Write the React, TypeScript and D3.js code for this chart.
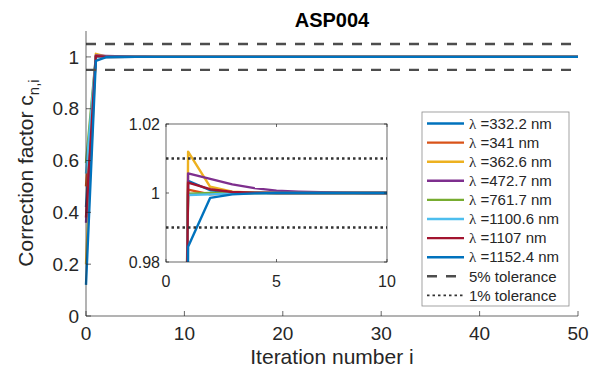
import { useEffect, useRef } from "react";
import * as d3 from "d3";

// iteration numbers (values are flat at 1 after iteration 10)
const iterations = [0, 1, 2, 3, 4, 5, 6, 7, 8, 9, 10, 50];

const wl332 = [0.42, 1.0035, 1.0008, 1.0002, 1.0001, 1, 1, 1, 1, 1, 1, 1];
const wl341 = [0.5, 1.001, 0.9996, 0.9999, 1, 1, 1, 1, 1, 1, 1, 1];
const wl362 = [0.2, 1.012, 1.0018, 1.0004, 1.0001, 1, 1, 1, 1, 1, 1, 1];
const wl472 = [0.36, 1.0057, 1.0041, 1.0025, 1.0014, 1.0007, 1.0004, 1.0002, 1.0001, 1, 1, 1];
const wl761 = [0.59, 0.9998, 1, 1, 1, 1, 1, 1, 1, 1, 1, 1];
const wl1100 = [0.55, 0.9994, 0.9996, 0.9999, 1, 1, 1, 1, 1, 1, 1, 1];
const wl1107 = [0.38, 1.003, 1.0011, 1.0003, 1.0001, 1, 1, 1, 1, 1, 1, 1];
const wl1152 = [0.12, 0.9844, 0.9986, 0.9996, 0.9999, 1, 1, 1, 1, 1, 1, 1];

const seriesNames = ["332.2", "341", "362.6", "472.7", "761.7", "1100.6", "1107", "1152.4"];
const seriesValues = [wl332, wl341, wl362, wl472, wl761, wl1100, wl1107, wl1152];
const colors = ["#0072BD", "#D95319", "#EDB120", "#7E2F8E", "#77AC30", "#4DBEEE", "#A2142F", "#0072BD"];

const mainXTicks = [0, 10, 20, 30, 40, 50];
const mainYTicks = [0, 0.2, 0.4, 0.6, 0.8, 1];
const insetXTicks = [0, 5, 10];
const insetYTicks = [0.98, 1, 1.02];
const tol5 = [0.95, 1.05];
const tol1 = [0.99, 1.01];

const FONT = "'Liberation Sans', Arial, Helvetica, sans-serif";

export default function App() {
  const svgRef = useRef<SVGSVGElement>(null);

  useEffect(() => {
    if (!svgRef.current) return;
    const svg = d3.select(svgRef.current);
    svg.selectAll("*").remove();

    const x = d3.scaleLinear().domain([0, 50]).range([86, 578]);
    const y = d3.scaleLinear().domain([0, 1.1]).range([316, 31]);

    const data = seriesValues.map((vals) => vals.map((v, i) => ({ i: iterations[i], v })));

    // main lines
    const line = d3
      .line<{ i: number; v: number }>()
      .x((d) => x(d.i))
      .y((d) => y(d.v));

    const g = svg.append("g");
    data.forEach((d, k) => {
      g.append("path")
        .attr("d", line(d))
        .attr("fill", "none")
        .attr("stroke", colors[k])
        .attr("stroke-width", 2.4)
        .attr("stroke-linejoin", "round");
    });

    // 5% tolerance
    tol5.forEach((t) => {
      g.append("line")
        .attr("x1", x(0))
        .attr("x2", x(50))
        .attr("y1", y(t))
        .attr("y2", y(t))
        .attr("stroke", "#4d4d4d")
        .attr("stroke-width", 2.4)
        .attr("stroke-dasharray", "10,9");
    });

    // main axes
    const axisColor = "#262626";
    g.append("line")
      .attr("x1", x(0)).attr("x2", x(0))
      .attr("y1", y(1.1)).attr("y2", y(0))
      .attr("stroke", axisColor).attr("stroke-width", 0.7);
    g.append("line")
      .attr("x1", x(0)).attr("x2", x(50))
      .attr("y1", y(0)).attr("y2", y(0))
      .attr("stroke", axisColor).attr("stroke-width", 0.7);

    mainXTicks.forEach((t) => {
      g.append("line")
        .attr("x1", x(t)).attr("x2", x(t))
        .attr("y1", y(0)).attr("y2", y(0) - 5)
        .attr("stroke", axisColor).attr("stroke-width", 0.7);
      g.append("text")
        .attr("x", x(t))
        .attr("y", y(0) + 24)
        .attr("text-anchor", "middle")
        .attr("font-family", FONT)
        .attr("font-size", 19)
        .attr("fill", axisColor)
        .text(String(t));
    });
    mainYTicks.forEach((t) => {
      g.append("line")
        .attr("x1", x(0)).attr("x2", x(0) + 5)
        .attr("y1", y(t)).attr("y2", y(t))
        .attr("stroke", axisColor).attr("stroke-width", 0.7);
      g.append("text")
        .attr("x", x(0) - 7)
        .attr("y", y(t))
        .attr("dy", "0.35em")
        .attr("text-anchor", "end")
        .attr("font-family", FONT)
        .attr("font-size", 19)
        .attr("fill", axisColor)
        .text(String(t));
    });

    // title and labels
    svg.append("text")
      .attr("x", 332).attr("y", 27)
      .attr("text-anchor", "middle")
      .attr("font-family", FONT)
      .attr("font-size", 20)
      .attr("font-weight", "bold")
      .text("ASP004");

    svg.append("text")
      .attr("x", 332).attr("y", 364)
      .attr("text-anchor", "middle")
      .attr("font-family", FONT)
      .attr("font-size", 21)
      .attr("fill", axisColor)
      .text("Iteration number i");

    const yl = svg.append("text")
      .attr("transform", "translate(33,173) rotate(-90)")
      .attr("text-anchor", "middle")
      .attr("font-family", FONT)
      .attr("font-size", 21)
      .attr("fill", axisColor);
    yl.append("tspan").text("Correction factor c");
    yl.append("tspan").attr("dy", 6).attr("font-size", 15).text("n,i");

    // inset
    const xi = d3.scaleLinear().domain([0, 10]).range([166, 387]);
    const yi = d3.scaleLinear().domain([0.98, 1.02]).range([262, 124]);

    svg.append("defs")
      .append("clipPath").attr("id", "insetClip")
      .append("rect")
      .attr("x", xi(0)).attr("y", yi(1.02))
      .attr("width", xi(10) - xi(0)).attr("height", yi(0.98) - yi(1.02));

    const gi = svg.append("g");
    gi.append("rect")
      .attr("x", xi(0)).attr("y", yi(1.02))
      .attr("width", xi(10) - xi(0)).attr("height", yi(0.98) - yi(1.02))
      .attr("fill", "white");

    const lineI = d3
      .line<{ i: number; v: number }>()
      .x((d) => xi(d.i))
      .y((d) => yi(d.v));

    const clipped = gi.append("g").attr("clip-path", "url(#insetClip)");
    data.forEach((d, k) => {
      clipped.append("path")
        .attr("d", lineI(d))
        .attr("fill", "none")
        .attr("stroke", colors[k])
        .attr("stroke-width", 2.4)
        .attr("stroke-linejoin", "round");
    });
    tol1.forEach((t) => {
      clipped.append("line")
        .attr("x1", xi(0)).attr("x2", xi(10))
        .attr("y1", yi(t)).attr("y2", yi(t))
        .attr("stroke", "#333")
        .attr("stroke-width", 2.4)
        .attr("stroke-dasharray", "2.5,3");
    });

    gi.append("rect")
      .attr("x", xi(0)).attr("y", yi(1.02))
      .attr("width", xi(10) - xi(0)).attr("height", yi(0.98) - yi(1.02))
      .attr("fill", "none")
      .attr("stroke", axisColor)
      .attr("stroke-width", 0.7);

    insetXTicks.forEach((t) => {
      gi.append("line")
        .attr("x1", xi(t)).attr("x2", xi(t))
        .attr("y1", yi(0.98)).attr("y2", yi(0.98) - 3)
        .attr("stroke", axisColor).attr("stroke-width", 0.7);
      gi.append("line")
        .attr("x1", xi(t)).attr("x2", xi(t))
        .attr("y1", yi(1.02)).attr("y2", yi(1.02) + 3)
        .attr("stroke", axisColor).attr("stroke-width", 0.7);
      gi.append("text")
        .attr("x", xi(t)).attr("y", yi(0.98) + 25)
        .attr("text-anchor", "middle")
        .attr("font-family", FONT)
        .attr("font-size", 16)
        .attr("fill", axisColor)
        .text(String(t));
    });
    insetYTicks.forEach((t) => {
      gi.append("line")
        .attr("x1", xi(0)).attr("x2", xi(0) + 3)
        .attr("y1", yi(t)).attr("y2", yi(t))
        .attr("stroke", axisColor).attr("stroke-width", 0.7);
      gi.append("line")
        .attr("x1", xi(10)).attr("x2", xi(10) - 3)
        .attr("y1", yi(t)).attr("y2", yi(t))
        .attr("stroke", axisColor).attr("stroke-width", 0.7);
      gi.append("text")
        .attr("x", xi(0) - 6).attr("y", yi(t))
        .attr("dy", "0.35em")
        .attr("text-anchor", "end")
        .attr("font-family", FONT)
        .attr("font-size", 16)
        .attr("fill", axisColor)
        .text(String(t));
    });

    // legend
    const lg = svg.append("g");
    lg.append("rect")
      .attr("x", 422).attr("y", 112)
      .attr("width", 147).attr("height", 194)
      .attr("fill", "white")
      .attr("stroke", "#8c8c8c")
      .attr("stroke-width", 0.8);

    const rowY = (k: number) => 123.5 + k * 19.1;
    seriesNames.forEach((name, k) => {
      lg.append("line")
        .attr("x1", 427).attr("x2", 464)
        .attr("y1", rowY(k)).attr("y2", rowY(k))
        .attr("stroke", colors[k])
        .attr("stroke-width", 2.4);
      const t = lg.append("text")
        .attr("x", 469).attr("y", rowY(k))
        .attr("dy", "0.35em")
        .attr("font-family", FONT)
        .attr("font-size", 15)
        .attr("fill", axisColor);
      t.append("tspan").attr("font-family", "'Liberation Serif', serif").text("λ");
      t.append("tspan").text(` =${name} nm`);
    });
    const tolRows = [
      { label: "5% tolerance", dash: "10,9", color: "#4d4d4d" },
      { label: "1% tolerance", dash: "2.5,3", color: "#333" },
    ];
    tolRows.forEach((r, j) => {
      const yy = rowY(8 + j);
      lg.append("line")
        .attr("x1", 427).attr("x2", 464)
        .attr("y1", yy).attr("y2", yy)
        .attr("stroke", r.color)
        .attr("stroke-width", j === 0 ? 2.4 : 1.6)
        .attr("stroke-dasharray", r.dash);
      lg.append("text")
        .attr("x", 469).attr("y", yy)
        .attr("dy", "0.35em")
        .attr("font-family", FONT)
        .attr("font-size", 15)
        .attr("fill", axisColor)
        .text(r.label);
    });
  }, []);

  return (
    <svg
      ref={svgRef}
      width={610}
      height={378}
      style={{ position: "absolute", left: 0, top: 0, background: "white" }}
    />
  );
}
